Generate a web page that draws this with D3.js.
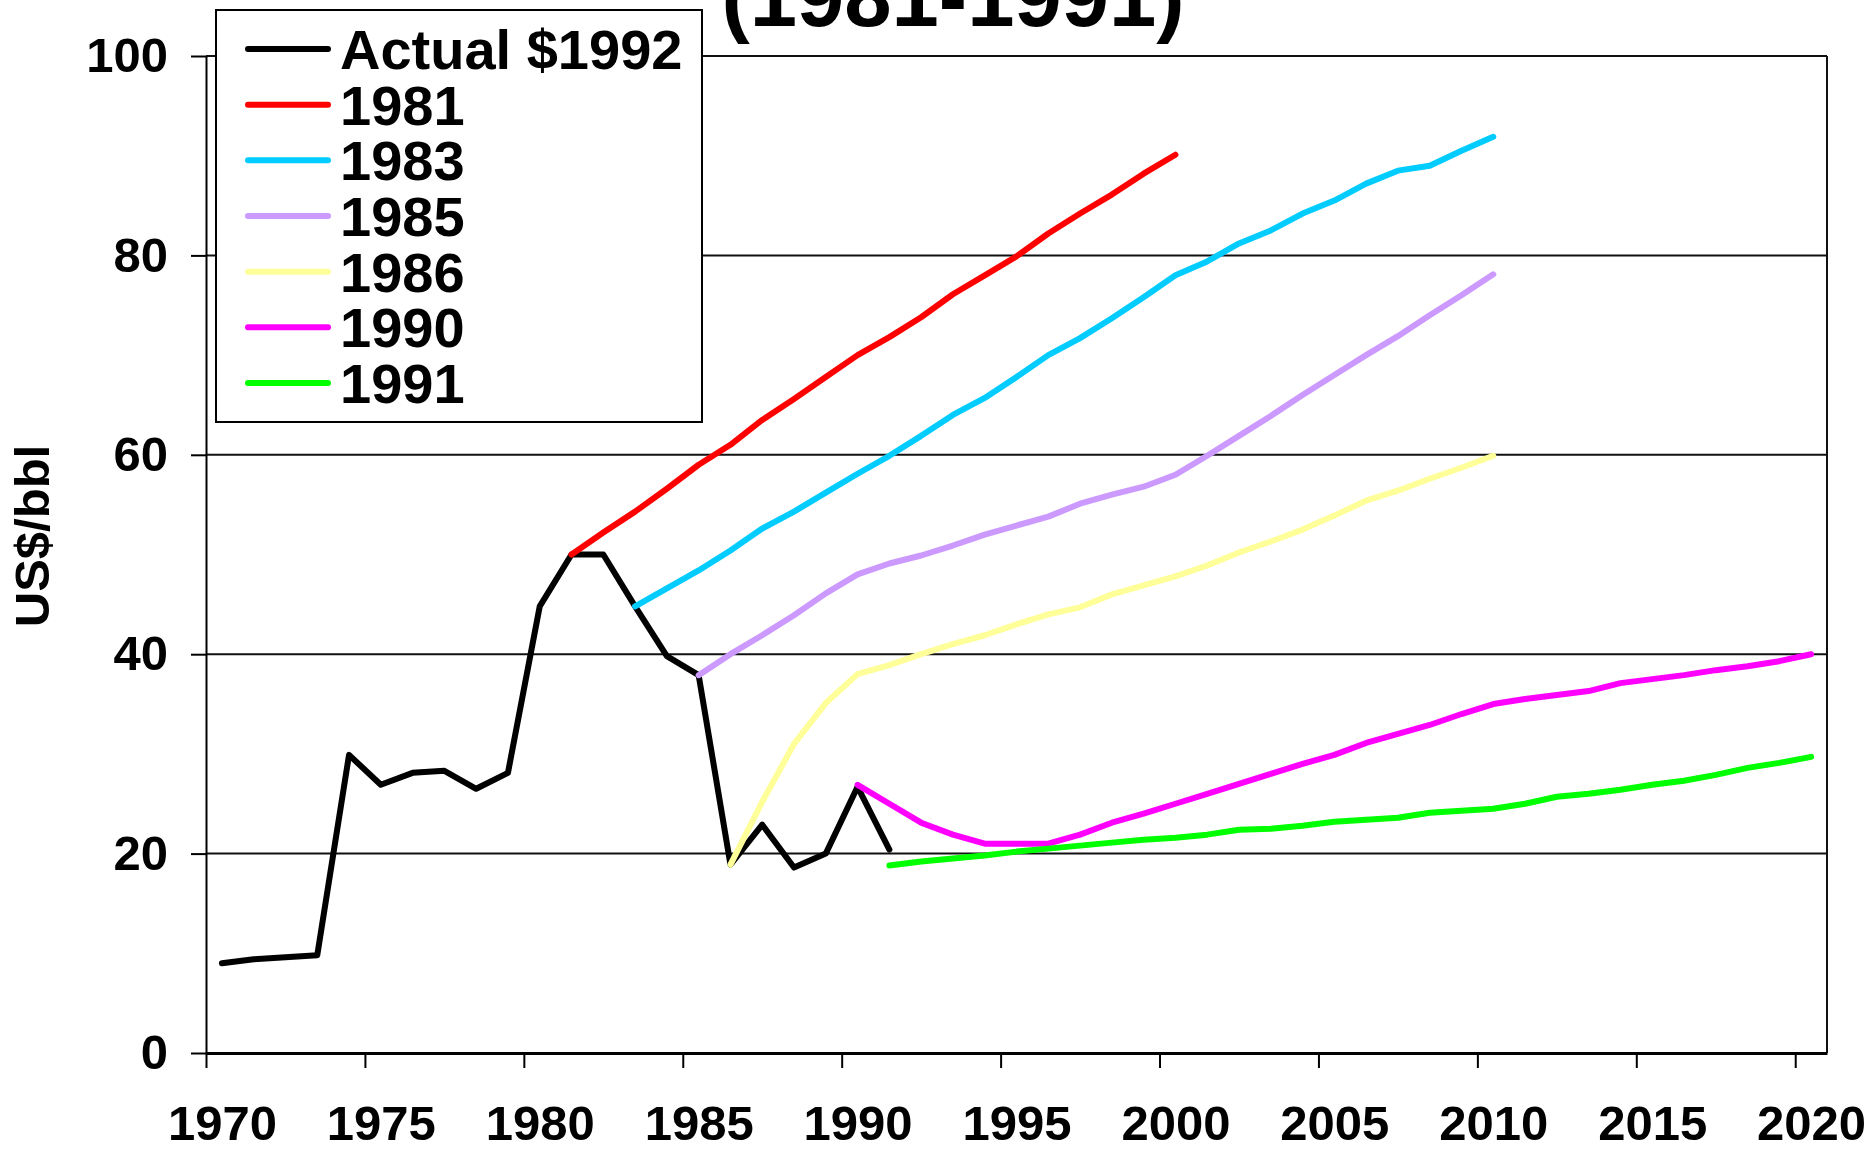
<!DOCTYPE html>
<html>
<head>
<meta charset="utf-8">
<script src="https://cdn.jsdelivr.net/npm/d3@7"></script>
<style>
  html, body { margin: 0; padding: 0; background: #fff; }
  svg { display: block; }
  text { font-family: "Liberation Sans", Arial, sans-serif; font-weight: bold; fill: #000; }
</style>
</head>
<body>
<svg id="chart" width="1870" height="1150"></svg>
<script>
// ---------- Data (US$/bbl, 1992 dollars) ----------
const titleText = "(1981-1991)";
const yAxisTitle = "US$/bbl";
const yTicks = [0, 20, 40, 60, 80, 100];
const xTicks = [1970, 1975, 1980, 1985, 1990, 1995, 2000, 2005, 2010, 2015, 2020];

const seriesNames = ["Actual $1992", "1981", "1983", "1985", "1986", "1990", "1991"];
const seriesColors = ["#000000", "#FF0000", "#00CCFF", "#CC99FF", "#FFFF99", "#FF00FF", "#00FF00"];
const seriesStart = [1970, 1981, 1983, 1985, 1986, 1990, 1991];

const actual = [9.0, 9.4, 9.6, 9.8, 29.9, 26.9, 28.1, 28.3, 26.5, 28.1, 44.8, 50.0, 50.0, 44.8, 39.8, 37.9, 18.9, 22.9, 18.6, 20.0, 26.7, 20.4];
const f1981 = [50.0, 52.2, 54.3, 56.6, 59.0, 61.0, 63.5, 65.6, 67.8, 70.0, 71.8, 73.8, 76.1, 78.0, 79.9, 82.2, 84.2, 86.1, 88.2, 90.1];
const f1983 = [44.8, 46.6, 48.4, 50.4, 52.6, 54.3, 56.2, 58.1, 59.9, 61.9, 64.0, 65.7, 67.8, 70.0, 71.7, 73.7, 75.8, 78.0, 79.4, 81.2, 82.5, 84.2, 85.5, 87.2, 88.5, 89.0, 90.5, 91.9];
const f1985 = [37.9, 40.0, 41.9, 43.9, 46.1, 48.0, 49.1, 49.9, 50.9, 52.0, 52.9, 53.8, 55.1, 56.0, 56.8, 58.0, 59.9, 61.9, 63.9, 66.0, 68.0, 70.0, 71.9, 74.0, 76.0, 78.1];
const f1986 = [18.9, 25.2, 31.0, 35.1, 38.0, 38.9, 40.0, 41.0, 41.9, 43.0, 44.0, 44.7, 46.0, 46.9, 47.8, 48.9, 50.2, 51.3, 52.5, 53.9, 55.4, 56.4, 57.6, 58.7, 59.9];
const f1990 = [26.9, 25.0, 23.1, 21.9, 21.0, 21.0, 21.0, 21.9, 23.1, 24.0, 25.0, 26.0, 27.0, 28.0, 29.0, 29.9, 31.1, 32.0, 32.9, 34.0, 35.0, 35.5, 35.9, 36.3, 37.1, 37.5, 37.9, 38.4, 38.8, 39.3, 40.0];
const f1991 = [18.8, 19.2, 19.5, 19.8, 20.2, 20.5, 20.8, 21.1, 21.4, 21.6, 21.9, 22.4, 22.5, 22.8, 23.2, 23.4, 23.6, 24.1, 24.3, 24.5, 25.0, 25.7, 26.0, 26.4, 26.9, 27.3, 27.9, 28.6, 29.1, 29.7];

const seriesValues = [actual, f1981, f1983, f1985, f1986, f1990, f1991];

// ---------- Layout ----------
const svg = d3.select("#chart");
const plot = { left: 206, right: 1827, top: 56, bottom: 1053 };

const x = d3.scaleLinear().domain([1970, 2021]).range([plot.left, plot.right]);
const y = d3.scaleLinear().domain([0, 100]).range([plot.bottom, plot.top]);
const halfCat = 0.5; // points sit in the middle of each year category

// gridlines
svg.append("g")
  .selectAll("line")
  .data(yTicks.filter(d => d > 0))
  .join("line")
  .attr("x1", plot.left).attr("x2", plot.right)
  .attr("y1", d => y(d)).attr("y2", d => y(d))
  .attr("stroke", "#111").attr("stroke-width", 2);

// right border
svg.append("line")
  .attr("x1", plot.right).attr("x2", plot.right)
  .attr("y1", plot.top).attr("y2", plot.bottom)
  .attr("stroke", "#111").attr("stroke-width", 2);

// Y axis
const yAxis = svg.append("g")
  .attr("transform", `translate(${plot.left},0)`)
  .call(d3.axisLeft(y).tickValues(yTicks).tickSize(15).tickPadding(23).tickSizeOuter(0));
yAxis.select(".domain").attr("stroke", "#000").attr("stroke-width", 2);
yAxis.selectAll(".tick line").attr("stroke", "#000").attr("stroke-width", 2);
yAxis.selectAll(".tick text")
  .style("font-family", "'Liberation Sans', Arial, sans-serif")
  .style("font-weight", "bold").style("font-size", "49px").attr("fill", "#000");

// X axis
const xAxis = svg.append("g")
  .attr("transform", `translate(0,${plot.bottom})`)
  .call(d3.axisBottom(x).tickValues(xTicks).tickFormat(d3.format("d")).tickSize(15).tickPadding(37).tickSizeOuter(0));
xAxis.select(".domain").attr("stroke", "#000").attr("stroke-width", 3);
xAxis.selectAll(".tick line").attr("stroke", "#000").attr("stroke-width", 2);
xAxis.selectAll(".tick text")
  .attr("x", x(1970 + halfCat) - x(1970))
  .style("font-family", "'Liberation Sans', Arial, sans-serif")
  .style("font-weight", "bold").style("font-size", "49px").attr("fill", "#000");

// Y axis title
svg.append("text")
  .attr("transform", `translate(49,536) rotate(-90)`)
  .attr("text-anchor", "middle")
  .style("font-size", "49px")
  .text(yAxisTitle);

// Title (second line, partly above the page as in the original)
svg.append("text")
  .attr("x", 953).attr("y", 26)
  .attr("text-anchor", "middle")
  .style("font-size", "85px")
  .text(titleText);

// Lines
const line = d3.line()
  .x(d => x(d.year + halfCat))
  .y(d => y(d.value));

seriesValues.forEach((vals, i) => {
  const pts = vals.map((v, k) => ({ year: seriesStart[i] + k, value: v }));
  svg.append("path")
    .datum(pts)
    .attr("d", line)
    .attr("fill", "none")
    .attr("stroke", seriesColors[i])
    .attr("stroke-width", 6)
    .attr("stroke-linejoin", "round")
    .attr("stroke-linecap", "round");
});

// Legend
const legend = svg.append("g");
legend.append("rect")
  .attr("x", 216).attr("y", 10).attr("width", 486).attr("height", 412)
  .attr("fill", "#fff").attr("stroke", "#000").attr("stroke-width", 2);
const rowY = d3.scalePoint().domain(seriesNames).range([49, 383]);
seriesNames.forEach((name, i) => {
  const ly = rowY(name);
  legend.append("line")
    .attr("x1", 248).attr("x2", 328)
    .attr("y1", ly).attr("y2", ly)
    .attr("stroke", seriesColors[i]).attr("stroke-width", 6)
    .attr("stroke-linecap", "round");
  legend.append("text")
    .attr("x", 340).attr("y", ly + 20)
    .style("font-size", "56px")
    .text(name);
});
</script>
</body>
</html>
